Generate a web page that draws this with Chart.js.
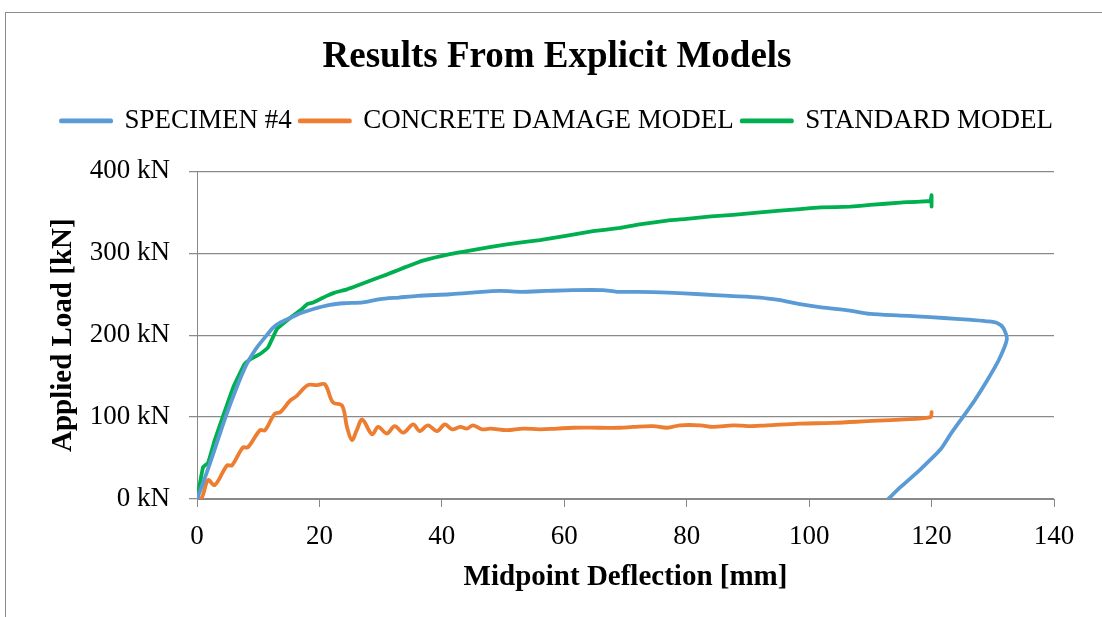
<!DOCTYPE html>
<html>
<head>
<meta charset="utf-8">
<script src="https://cdn.jsdelivr.net/npm/chart.js@4.4.1/dist/chart.umd.min.js"></script>
<style>
html,body{margin:0;padding:0;background:#fff;}
#wrap{width:1102px;height:617px;position:relative;}
</style>
</head>
<body>
<div id="wrap"><canvas id="c" width="1102" height="617"></canvas></div>
<script>
// ---- Data ----
const chartTitle = "Results From Explicit Models";
const seriesNames = ["SPECIMEN #4", "CONCRETE DAMAGE MODEL", "STANDARD MODEL"];
const xAxisTitle = "Midpoint Deflection [mm]";
const yAxisTitle = "Applied Load [kN]";
const xTicks = [0, 20, 40, 60, 80, 100, 120, 140];
const yTicks = [0, 100, 200, 300, 400];
const yTickUnit = " kN";

// SPECIMEN #4 (deflection mm, load kN)
const specimenX = [0, 1, 2, 3, 4.2, 5.5, 7, 8.2, 9.5, 10.3, 11.5, 12.4, 13.5, 15.2, 17, 19, 21.7, 24, 27.1, 29.9, 33, 36, 41.3, 45, 49.5, 53, 57, 61.4, 66.3, 68.6, 72, 77, 82.2, 87, 92, 95, 98.5, 102, 106.7, 110, 114.9, 117.6, 122, 126, 129, 130.7, 131.7, 132.3, 131, 129.1, 127, 125.1, 123, 121.4, 118, 115, 112.9];
const specimenY = [0, 20, 41, 63, 90, 117, 146, 166, 182, 190, 201, 209, 215, 221, 227, 232, 237, 239, 240, 244, 246, 248, 250, 252, 254, 253, 254, 255, 255, 253, 253, 252, 250, 248, 246, 243, 238, 234, 230, 226, 224, 223, 221, 219, 217, 215, 209, 195, 170, 145, 120, 100, 78, 60, 35, 15, 0];

// CONCRETE DAMAGE MODEL
const cdmX = [0, 0.8, 1.8, 2.9, 4.9, 5.7, 7.5, 8.3, 10.3, 11.1, 12.7, 13.6, 15.2, 16.3, 18.1, 19.6, 20.9, 22.2, 23.7, 24.5, 25.3, 26.1, 27, 28.6, 29.6, 31, 32.3, 33.7, 35.3, 36.4, 37.7, 39.2, 40.5, 41.7, 43, 44.1, 45.1, 46.6, 47.9, 50.6, 53.3, 56, 58.8, 61.4, 65.8, 69.1, 71.2, 74.5, 76.8, 78.9, 82.2, 84.3, 87.6, 90, 93.1, 98.5, 103.9, 109.5, 114.9, 119.8, 120];
const cdmY = [0, 2, 23, 17, 41, 41, 63, 63, 84, 84, 104, 106, 120, 126, 139, 139, 140, 118, 114, 88, 72, 84, 97, 79, 88, 80, 89, 81, 91, 83, 90, 83, 91, 85, 88, 86, 90, 85, 86, 84, 86, 85, 86, 87, 87, 87, 88, 89, 87, 90, 90, 88, 90, 89, 90, 92, 93, 95, 97, 100, 106];

// STANDARD MODEL
const stdX = [0, 0.5, 1, 1.8, 2.9, 4.2, 5.9, 7.8, 9, 10.3, 11.6, 13.1, 15.2, 17, 18, 19, 21.2, 22.5, 24.5, 26, 28.8, 31, 33, 36.9, 41.3, 45, 50.6, 56, 60, 64.7, 69.1, 72, 76.8, 80, 84, 87.6, 92, 98.5, 102, 106.7, 110, 114.9, 119.8, 120, 120];
const stdY = [0, 20, 39, 44, 72, 100, 136, 165, 172, 177, 185, 208, 221, 231, 238, 240, 248, 252, 256, 260, 268, 274, 280, 291, 299, 304, 311, 316, 321, 327, 331, 335, 340, 342, 345, 347, 350, 354, 356, 357, 359, 362, 364, 371, 357];

const colors = ["#5B9BD5", "#ED7D31", "#00B050"];
const tensions = [0.25, 0.35, 0.1];

function pts(xs, ys) { return xs.map((x, i) => ({x: x, y: ys[i]})); }

const FONT = "'Liberation Serif', 'Times New Roman', serif";

const framePlugin = {
  id: 'frame',
  beforeDraw(chart) {
    const ctx = chart.ctx;
    ctx.save();
    ctx.fillStyle = '#fff';
    ctx.fillRect(0, 0, chart.width, chart.height);
    ctx.strokeStyle = '#8c8c8c';
    ctx.lineWidth = 1;
    ctx.strokeRect(5.5, 12.5, 1200, 700);
    ctx.restore();
  }
};

const legendSpacer = {
  id: 'legendSpacer',
  beforeUpdate(chart) {
    const lg = chart.legend;
    if (lg && !lg._patched) {
      const orig = lg.fit;
      lg.fit = function() { orig.call(this); this.height += 27; };
      lg._patched = true;
    }
  }
};

const datasets = [
  {label: seriesNames[0], data: pts(specimenX, specimenY)},
  {label: seriesNames[1], data: pts(cdmX, cdmY)},
  {label: seriesNames[2], data: pts(stdX, stdY)}
].map((d, i) => Object.assign(d, {
  borderColor: colors[i], backgroundColor: colors[i], tension: tensions[i],
  showLine: true, pointRadius: 0, borderWidth: 3.8, fill: false,
  borderCapStyle: 'round', borderJoinStyle: 'round'
}));

new Chart(document.getElementById('c'), {
  type: 'scatter',
  data: {datasets: datasets},
  plugins: [framePlugin, legendSpacer],
  options: {
    responsive: false,
    animation: false,
    layout: {padding: {top: 12, left: 19, right: 7, bottom: 0}},
    plugins: {
      tooltip: {enabled: false},
      title: {
        display: true, text: chartTitle, color: '#000',
        font: {family: FONT, size: 37, weight: 'bold'},
        padding: {top: 23, bottom: 20}
      },
      legend: {
        display: true, position: 'top',
        labels: {
          color: '#000', font: {family: FONT, size: 27},
          boxWidth: 50, boxHeight: 1, padding: 8
        }
      }
    },
    scales: {
      x: {
        type: 'linear', min: xTicks[0], max: xTicks[xTicks.length - 1],
        afterFit(s) { s.height = 118; },
        afterBuildTicks(s) { s.ticks = xTicks.map(v => ({value: v})); },
        ticks: {color: '#000', font: {family: FONT, size: 27}, padding: 14, maxRotation: 0, autoSkip: false},
        grid: {drawOnChartArea: false, drawTicks: true, tickLength: 8, color: '#888', lineWidth: 1},
        border: {display: true, color: '#888', width: 1},
        title: {display: true, text: xAxisTitle, color: '#000', font: {family: FONT, size: 29, weight: 'bold'}, padding: {top: 0, bottom: 22}}
      },
      y: {
        type: 'linear', min: yTicks[0], max: yTicks[yTicks.length - 1],
        afterFit(s) { s.width = 178; },
        afterBuildTicks(s) { s.ticks = yTicks.map(v => ({value: v})); },
        ticks: {color: '#000', font: {family: FONT, size: 27}, padding: 19, callback: v => v + yTickUnit},
        grid: {drawOnChartArea: true, drawTicks: true, tickLength: 8, color: '#8a8a8a', lineWidth: 1.25},
        border: {display: true, color: '#888', width: 1},
        title: {display: true, text: yAxisTitle, color: '#000', font: {family: FONT, size: 29, weight: 'bold'}, padding: {top: 27, bottom: 0}}
      },
      yRight: {
        type: 'linear', position: 'right', display: true, min: 0, max: 1,
        afterFit(s) { s.width = 41; },
        ticks: {display: false},
        grid: {display: false, drawTicks: false},
        border: {display: false},
        title: {display: false}
      }
    }
  }
});
</script>
</body>
</html>
